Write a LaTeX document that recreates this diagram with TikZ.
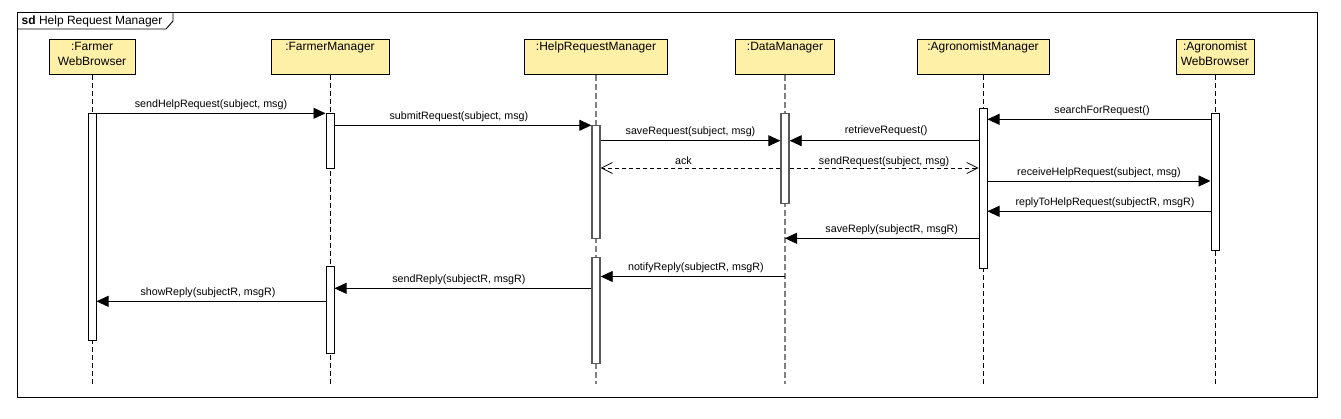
\documentclass[tikz,border=0pt]{standalone}
\usepackage{fontspec}
\setmainfont{Liberation Sans}
\usetikzlibrary{arrows.meta,calc}
\definecolor{headfill}{RGB}{255,240,168}
\begin{document}
\begin{tikzpicture}[x=1pt,y=-1pt,
  headbox/.style={draw, line width=1pt, fill=headfill, inner sep=0, minimum height=35pt, anchor=north},
  headtxt/.style={anchor=north, inner sep=0, yshift=-3pt, align=center, font=\fontsize{12}{15}\selectfont},
  life/.style={line width=0.8pt, dash pattern=on 5pt off 3pt},
  lifeg/.style={line width=1.5pt, draw=black!50, dash pattern=on 6pt off 3pt},
  act/.style={draw, line width=1pt, fill=white, inner sep=0, minimum width=8pt, anchor=north},
  actg/.style={act, draw=black!65, line width=1.4pt},
  msg/.style={line width=0.9pt, -{Triangle[length=12pt,width=11pt]}},
  rmsg/.style={line width=0.8pt, dash pattern=on 4pt off 3pt, -{Straight Barb[length=11pt,width=11pt,line width=0.7pt]}},
  lbl/.style={midway, anchor=base, inner sep=0, yshift=6pt, font=\fontsize{10.7}{12}\selectfont}
]
\useasboundingbox (0,0) rectangle (1341,418);
% frame
\draw[line width=1pt] (17,12) rectangle (1317,397);
\draw[line width=0.9pt] (17,29) -- (166,29) -- (173,21) -- (173,12);
\node[anchor=base west, inner sep=0, font=\fontsize{12}{14}\selectfont] (title) at (21.5,24.5) {\textbf{sd} Help Request Manager};

% heads
\node[headbox, minimum width=86pt, label={[headtxt]north::Farmer\\WebBrowser}] (fwb) at (92,39) {};
\node[headbox, minimum width=118pt, label={[headtxt]north::FarmerManager}] (fm) at (330,39) {};
\node[headbox, minimum width=143pt, label={[headtxt]north::HelpRequestManager}] (hrm) at (596,39) {};
\node[headbox, minimum width=99pt, label={[headtxt]north::DataManager}] (dm) at (785,39) {};
\node[headbox, minimum width=132pt, label={[headtxt]north::AgronomistManager}] (am) at (983,39) {};
\node[headbox, minimum width=78pt, label={[headtxt]north::Agronomist\\WebBrowser}] (awb) at (1215,39) {};

% lifelines
\coordinate (lend) at (0,384);
\draw[life] (fwb.south) -- (fwb.south |- lend);
\draw[life] (fm.south) -- (fm.south |- lend);
\draw[lifeg] (hrm.south) -- (hrm.south |- lend);
\draw[lifeg] (dm.south) -- (dm.south |- lend);
\draw[life] (am.south) -- (am.south |- lend);
\draw[life] (awb.south) -- (awb.south |- lend);

% activations
\node[act, minimum height=227pt] (fwbA) at (92,113) {};
\node[act, minimum height=55pt] (fmA1) at (330,113) {};
\node[act, minimum height=87pt] (fmA2) at (330,266) {};
\node[actg, minimum height=113pt] (hrmA1) at (596,125) {};
\node[actg, minimum height=106pt] (hrmA2) at (596,256.5) {};
\node[actg, minimum height=90pt] (dmA) at (785,113) {};
\node[act, minimum height=159.5pt] (amA) at (983,108) {};
\node[act, minimum height=137pt] (awbA) at (1215,113) {};

% messages
\draw[msg] (fwbA.east |- 0,113.3) -- node[lbl] {sendHelpRequest(subject, msg)} (fmA1.west |- 0,113.3);
\draw[msg] (fmA1.east |- 0,125.3) -- node[lbl, xshift=-4pt] {submitRequest(subject, msg)} (hrmA1.west |- 0,125.3);
\draw[msg] (hrmA1.east |- 0,140.7) -- node[lbl] {saveRequest(subject, msg)} (dmA.west |- 0,140.7);
\draw[msg] (amA.west |- 0,140.7) -- node[lbl, xshift=2pt, yshift=1.5pt] {retrieveRequest()} (dmA.east |- 0,140.7);
\draw[rmsg] (dmA.west |- 0,168) -- node[lbl, xshift=-7pt, yshift=-2pt] {ack} (hrmA1.east |- 0,168);
\draw[rmsg] (dmA.east |- 0,168) -- node[lbl, yshift=-2pt] {sendRequest(subject, msg)} (amA.west |- 0,168);
\draw[msg] (awbA.west |- 0,119.3) -- node[lbl, xshift=3pt] {searchForRequest()} (amA.east |- 0,119.3);
\draw[msg] (amA.east |- 0,181) -- node[lbl] {receiveHelpRequest(subject, msg)} (awbA.west |- 0,181);
\draw[msg] (awbA.west |- 0,211.3) -- node[lbl, xshift=6pt] {replyToHelpRequest(subjectR, msgR)} (amA.east |- 0,211.3);
\draw[msg] (amA.west |- 0,238.3) -- node[lbl, xshift=10pt] {saveReply(subjectR, msgR)} (dm.south |- 0,238.3);
\draw[msg] (dm.south |- 0,276.5) -- node[lbl, xshift=3pt] {notifyReply(subjectR, msgR)} (hrmA2.east |- 0,276.5);
\draw[msg] (hrmA2.west |- 0,288.3) -- node[lbl, xshift=-4pt] {sendReply(subjectR, msgR)} (fmA2.east |- 0,288.3);
\draw[msg] (fmA2.west |- 0,301.3) -- node[lbl, xshift=-3pt] {showReply(subjectR, msgR)} (fwbA.east |- 0,301.3);
\end{tikzpicture}
\end{document}
